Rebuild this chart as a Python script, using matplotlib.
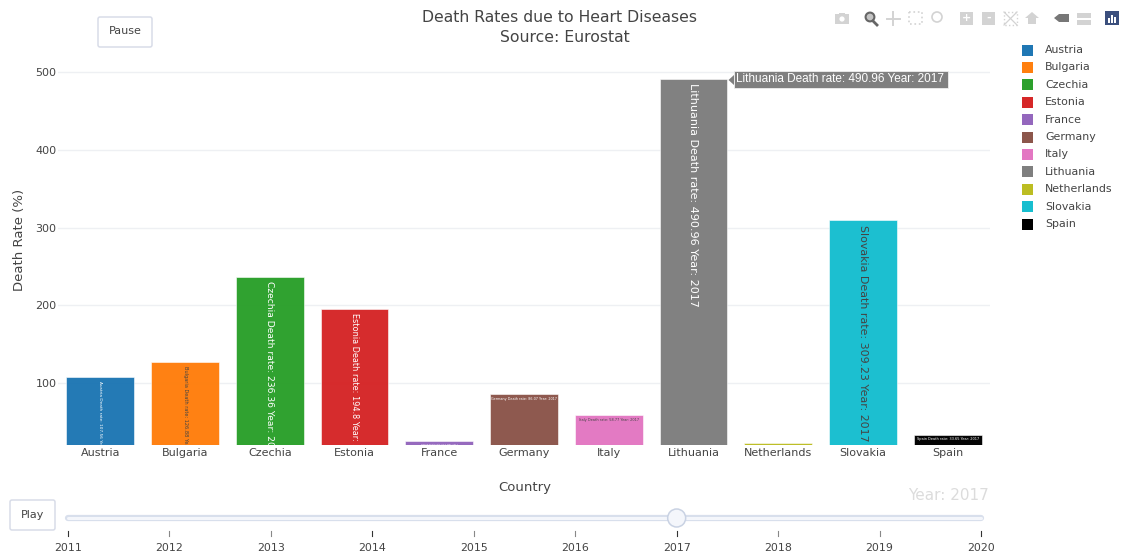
import matplotlib
matplotlib.use('Agg')
import matplotlib.pyplot as plt
from matplotlib.patches import Rectangle, Circle, FancyBboxPatch, Polygon

countries = ['Austria', 'Bulgaria', 'Czechia', 'Estonia', 'France', 'Germany',
             'Italy', 'Lithuania', 'Netherlands', 'Slovakia', 'Spain']
rates = [107.56, 126.88, 236.36, 194.8, 25.5, 86.07, 58.77, 490.96, 22.3, 309.23, 33.65]
colors = ['#1f77b4', '#ff7f0e', '#2ca02c', '#d62728', '#9467bd', '#8c564b',
          '#e377c2', '#7f7f7f', '#bcbd22', '#17becf', '#000000']
text_colors = ['white', '#444444', 'white', 'white', 'white', 'white',
               '#444444', 'white', '#444444', '#444444', 'white']
# font size shrinks on the small bars, like plotly does
text_sizes = [3.1, 3.6, 6.55, 5.9, 1.5, 2.4, 2.5, 8.05, 1.0, 7.9, 2.5]
text_rot = [-90, -90, -90, -90, 0, 0, 0, -90, 0, -90, 0]
years = [2011, 2012, 2013, 2014, 2015, 2016, 2017, 2018, 2019, 2020]
current_year = 2017
y_ticks = [100, 200, 300, 400, 500]

W, H = 1125, 557
fig = plt.figure(figsize=(W / 100, H / 100), dpi=100)
plt.rcParams['font.family'] = 'DejaVu Sans'

# main plot, placed in pixels
left, right, top, bottom = 58, 990, 50, 445
ax = fig.add_axes([left / W, 1 - bottom / H, (right - left) / W, (bottom - top) / H])
ax.set_xlim(-0.5, 10.5)
ax.set_ylim(20.3, 528.3)
for s in ax.spines.values():
    s.set_visible(False)
ax.set_yticks(y_ticks)
ax.grid(axis='y', color='#eef0f3', lw=1)
ax.set_axisbelow(True)
ax.tick_params(axis='both', length=0, labelsize=8, labelcolor='#444444')
ax.tick_params(axis='x', pad=2.5)
ax.tick_params(axis='y', pad=1)
ax.set_xticks(range(len(countries)))
ax.set_xticklabels(countries)
ax.set_ylabel('Death Rate (%)', fontsize=9.5, color='#444444')
ax.yaxis.set_label_coords((26 - left) / (right - left), (bottom - 240) / (bottom - top))
ax.set_xlabel('Country', fontsize=9.5, color='#444444')
ax.xaxis.set_label_coords((525 - left) / (right - left), (bottom - 481) / (bottom - top))
# x labels go on top of the strip that hides the long bar texts
ax.xaxis.set_zorder(10)

bars = ax.bar(countries, rates, width=0.8, color=colors, edgecolor='white', lw=0.4, alpha=0.98)
for i, b in enumerate(bars):
    label = f'{countries[i]} Death rate: {rates[i]} Year: {current_year}'
    if text_rot[i] == -90:
        t = ax.annotate(label, (i, rates[i]), xytext=(0, -3), textcoords='offset points',
                        rotation=-90, ha='center', va='top', fontsize=text_sizes[i], color=text_colors[i])
    else:
        t = ax.annotate(label, (i, rates[i]), xytext=(0, -2), textcoords='offset points',
                        ha='center', va='top', fontsize=text_sizes[i], color=text_colors[i])
    t.set_clip_path(b)
    t.set_clip_on(True)
# clipping does not work on rotated text in agg, so hide the overflow
ax.add_patch(Rectangle((0, -0.07), 1, 0.07, transform=ax.transAxes, fc='white', lw=0,
                       clip_on=False, zorder=5))

# overlay in pixel coords for title, legend, buttons, slider, toolbar
ov = fig.add_axes([0, 0, 1, 1])
ov.set_xlim(0, W)
ov.set_ylim(H, 0)
ov.axis('off')
ov.patch.set_alpha(0)

ov.text(560, 17, 'Death Rates due to Heart Diseases', ha='center', va='center', fontsize=11.25, color='#444444')
ov.text(565, 37, 'Source: Eurostat', ha='center', va='center', fontsize=11.25, color='#444444')

# legend
for i, c in enumerate(countries):
    y = 50 + i * 17.4
    ov.add_patch(Rectangle((1022, y - 5.5), 10.5, 11, color=colors[i], lw=0))
    ov.text(1045, y, c, va='center', fontsize=7.9, color='#444444')

# tooltip
tip = '#7f7f7f'
ov.add_patch(Rectangle((734, 71), 214, 17, fc=tip, ec='#eeeeee', lw=0.6))
ov.add_patch(Polygon([[728.5, 80], [734, 75], [734, 85]], fc=tip, ec='none'))
ov.text(736, 79.5, 'Lithuania Death rate: 490.96 Year: 2017', va='center', fontsize=8.45,
        color='white', family='Liberation Sans')


def button(x0, y0, w, h, label):
    ov.add_patch(FancyBboxPatch((x0, y0), w, h, boxstyle='round,pad=0,rounding_size=2',
                                fc='white', ec='#d8dce8', lw=1.1))
    ov.text(x0 + w / 2, y0 + h / 2 - 0.5, label, ha='center', va='center', fontsize=8, color='#444444')


button(98, 17, 54, 30, 'Pause')
button(10, 500, 45, 30, 'Play')

# slider
ov.plot([68, 981], [518, 518], color='#d8dfec', lw=4.5, solid_capstyle='round')
ov.plot([68, 981], [518, 518], color='#f4f6fb', lw=2.2, solid_capstyle='round')
for k, yr in enumerate(years):
    x = 68 + k * (981 - 68) / 9
    ov.plot([x, x], [531, 536], color='#333333' if yr in (2011, 2014, 2017, 2020) else '#888888', lw=0.8)
    ov.text(x, 548, str(yr), ha='center', va='center', fontsize=7.9, color='#444444')
xh = 68 + years.index(current_year) * (981 - 68) / 9
ov.add_patch(Circle((xh, 518), 9, fc='#f4f6fb', ec='#c9d2e3', lw=1.1, zorder=5))
ov.text(989, 496, 'Year: ' + str(current_year), ha='right', va='center', fontsize=11, color='#dcdcdc')

# toolbar icons, rough shapes
g = '#d3d3d3'
ov.add_patch(Rectangle((835, 14), 14, 10, fc=g, lw=0))
ov.add_patch(Rectangle((839, 12.5), 6, 2, fc=g, lw=0))
ov.add_patch(Circle((842, 19), 2.6, fc='white', lw=0))
ov.add_patch(Circle((870, 17), 4.4, fc='#c4c4c4', ec='#666666', lw=1.5))
ov.plot([873, 877], [21, 25], color='#666666', lw=2)
ov.plot([893, 893], [12, 25], color=g, lw=1.4)
ov.plot([887, 900], [18.5, 18.5], color=g, lw=1.4)
ov.add_patch(Rectangle((909, 12), 13, 12, fc='none', ec=g, lw=1.2, ls=':'))
ov.add_patch(Circle((937, 17), 5, fc='none', ec=g, lw=1.2))
for x0, mark in [(960, '+'), (982, '-')]:
    ov.add_patch(Rectangle((x0, 12), 13, 13, fc=g, lw=0))
    ov.text(x0 + 6.5, 18, mark, ha='center', va='center', fontsize=8, color='white', weight='bold')
ov.plot([1004, 1017], [12, 25], color=g, lw=0.9)
ov.plot([1004, 1017], [25, 12], color=g, lw=0.9)
ov.add_patch(Rectangle((1004, 12), 13, 13, fc='none', ec=g, lw=1, ls=':'))
ov.add_patch(Polygon([[1025, 18], [1032, 12], [1039, 18], [1036, 18], [1036, 24], [1028, 24], [1028, 18]], fc=g, lw=0))
ov.add_patch(Polygon([[1054, 18], [1059, 14], [1069, 14], [1069, 22], [1059, 22]], fc='#777777', lw=0))
ov.add_patch(Rectangle((1077, 13), 14, 5, fc=g, lw=0))
ov.add_patch(Rectangle((1077, 20), 14, 5, fc=g, lw=0))
ov.add_patch(Rectangle((1105, 11), 14, 14, fc='#3b4f7d', lw=0))
for x0, h_ in [(1108, 5), (1111, 8), (1114, 6)]:
    ov.add_patch(Rectangle((x0, 23 - h_), 1.6, h_, fc='white', lw=0))

fig.savefig('out.png', dpi=100)
